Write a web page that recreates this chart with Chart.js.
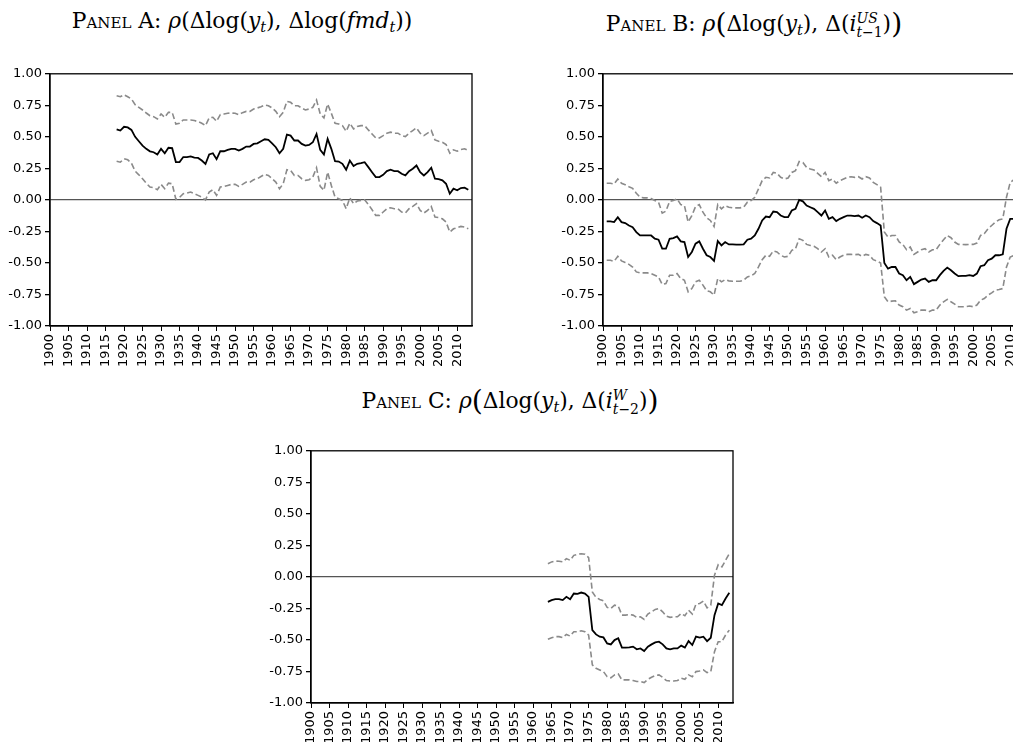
<!DOCTYPE html>
<html>
<head>
<meta charset="utf-8">
<script src="https://cdn.jsdelivr.net/npm/chart.js@4.4.0/dist/chart.umd.min.js"></script>
<style>
  html, body { margin: 0; padding: 0; background: #fff; }
  body { position: relative; width: 1013px; height: 742px; overflow: hidden; }
  canvas { position: absolute; }
  .title {
    position: absolute;
    transform: translateX(-50%);
    white-space: nowrap;
    font-family: "DejaVu Serif", "Liberation Serif", serif;
    font-size: 21.8px;
    line-height: 1;
    color: #000;
  }
  .sc { font-variant: small-caps; }
  .title sub { font-size: 0.66em; vertical-align: -0.3em; line-height: 0; }
  .big { font-size: 1.3em; vertical-align: -0.08em; }
  .ss { display: inline-block; font-size: 0.64em; line-height: 0.95; vertical-align: -0.42em; }
  .ss span { display: block; }
</style>
</head>
<body>
<div class="title" style="left:242px; top:10px;"><span class="sc">Panel A:</span> <i>ρ</i>(Δlog(<i>y</i><sub><i>t</i></sub>), Δlog(<i>fmd</i><sub><i>t</i></sub>))</div>
<div class="title" style="left:754px; top:10px;"><span class="sc">Panel B:</span> <i>ρ</i><span class="big">(</span>Δlog(<i>y</i><sub><i>t</i></sub>), Δ(<i>i</i><span class="ss"><span><i>US</i></span><span><i>t</i>−1</span></span>)<span class="big">)</span></div>
<div class="title" style="left:510px; top:387px;"><span class="sc">Panel C:</span> <i>ρ</i><span class="big">(</span>Δlog(<i>y</i><sub><i>t</i></sub>), Δ(<i>i</i><span class="ss"><span><i>W</i></span><span><i>t</i>−2</span></span>)<span class="big">)</span></div>

<canvas id="panelA" width="480" height="310" style="left:0px; top:63px;"></canvas>
<canvas id="panelB" width="480" height="310" style="left:553px; top:63px;"></canvas>
<canvas id="panelC" width="480" height="310" style="left:261px; top:440px;"></canvas>

<script>
// year ranges of each panel
function yearRange(from, to) {
  const out = [];
  for (let y = from; y <= to; y++) out.push(y);
  return out;
}
const yearsA = yearRange(1918, 2013);
const yearsB = yearRange(1901, 2011);
const yearsC = yearRange(1964, 2013);

// Panel A: rho(dlog y, dlog fmd)
const corrA = [0.56, 0.55,
  0.58, 0.575, 0.555, 0.50, 0.465, 0.43, 0.405, 0.385, 0.378, 0.36,
  0.405, 0.37, 0.413, 0.41, 0.30, 0.30, 0.34, 0.34, 0.345, 0.335,
  0.333, 0.312, 0.285, 0.36, 0.37, 0.323, 0.386, 0.386, 0.397, 0.405,
  0.405, 0.392, 0.405, 0.423, 0.423, 0.444, 0.449, 0.465, 0.481, 0.476,
  0.449, 0.418, 0.37, 0.405, 0.518, 0.51, 0.471, 0.471, 0.444, 0.431,
  0.436, 0.457, 0.523, 0.397, 0.36, 0.484, 0.405, 0.307, 0.304, 0.286,
  0.239, 0.312, 0.268, 0.286, 0.291, 0.299, 0.26, 0.22, 0.181, 0.181,
  0.199, 0.228, 0.239, 0.228, 0.228, 0.207, 0.194, 0.228, 0.247, 0.273,
  0.22, 0.194, 0.22, 0.255, 0.168, 0.165, 0.155, 0.128, 0.049, 0.089,
  0.076, 0.094, 0.097, 0.081];
const upperA = [0.826, 0.818,
  0.834, 0.818, 0.80, 0.755, 0.734, 0.713, 0.689, 0.668, 0.66, 0.642,
  0.681, 0.655, 0.694, 0.694, 0.602, 0.608, 0.634, 0.634, 0.634, 0.629,
  0.621, 0.608, 0.589, 0.65, 0.655, 0.623, 0.676, 0.681, 0.687, 0.689,
  0.687, 0.676, 0.692, 0.702, 0.702, 0.721, 0.729, 0.739, 0.753, 0.747,
  0.729, 0.702, 0.66, 0.694, 0.781, 0.774, 0.747, 0.747, 0.729, 0.713,
  0.721, 0.734, 0.792, 0.681, 0.65, 0.76, 0.687, 0.608, 0.602, 0.589,
  0.544, 0.608, 0.563, 0.582, 0.589, 0.589, 0.555, 0.523, 0.492, 0.492,
  0.51, 0.529, 0.537, 0.529, 0.529, 0.51, 0.502, 0.529, 0.55, 0.571,
  0.529, 0.51, 0.529, 0.55, 0.476, 0.465, 0.457, 0.439, 0.37, 0.397,
  0.386, 0.399, 0.405, 0.392];
const lowerA = [0.307, 0.299,
  0.326, 0.318, 0.291, 0.228, 0.199, 0.168, 0.133, 0.102, 0.097, 0.081,
  0.123, 0.089, 0.133, 0.128, 0.005, 0.02, 0.049, 0.054, 0.062, 0.049,
  0.036, 0.022, 0.0, 0.062, 0.081, 0.036, 0.102, 0.107, 0.115, 0.123,
  0.123, 0.107, 0.123, 0.141, 0.141, 0.16, 0.168, 0.186, 0.202, 0.194,
  0.168, 0.141, 0.089, 0.128, 0.239, 0.234, 0.194, 0.194, 0.168, 0.155,
  0.16, 0.181, 0.255, 0.107, 0.076, 0.22, 0.115, 0.022, 0.009, -0.004,
  -0.07, 0.017, -0.03, -0.009, -0.004, 0.001, -0.036, -0.078, -0.123, -0.123,
  -0.096, -0.07, -0.062, -0.07, -0.07, -0.096, -0.104, -0.07, -0.052, -0.03,
  -0.083, -0.104, -0.083, -0.052, -0.136, -0.14, -0.15, -0.176, -0.255, -0.229,
  -0.22, -0.21, -0.215, -0.229];

// Panel B: rho(dlog y, d i_US(t-1))
const corrB = [-0.171, -0.171, -0.176, -0.137, -0.176, -0.184, -0.203, -0.216, -0.255,
  -0.282, -0.282, -0.282, -0.282, -0.308, -0.316, -0.387, -0.387, -0.308, -0.303,
  -0.289, -0.329, -0.334, -0.453, -0.413, -0.347, -0.329, -0.387, -0.439, -0.453,
  -0.484, -0.326, -0.361, -0.334, -0.353, -0.353, -0.355, -0.355, -0.353, -0.316,
  -0.308, -0.282, -0.229, -0.163, -0.132, -0.137, -0.092, -0.097, -0.124, -0.137,
  -0.137, -0.084, -0.071, 0.0, -0.011, -0.045, -0.058, -0.071, -0.097, -0.124,
  -0.084, -0.15, -0.137, -0.168, -0.15, -0.137, -0.124, -0.124, -0.129, -0.124,
  -0.142, -0.124, -0.137, -0.168, -0.184, -0.203, -0.50, -0.545, -0.532, -0.532,
  -0.584, -0.597, -0.637, -0.611, -0.668, -0.65, -0.632, -0.624, -0.65, -0.637,
  -0.637, -0.597, -0.563, -0.537, -0.558, -0.584, -0.605, -0.603, -0.603, -0.597,
  -0.603, -0.584, -0.526, -0.518, -0.479, -0.466, -0.439, -0.439, -0.432, -0.229,
  -0.15, -0.15];
const upperB = [0.132, 0.132, 0.126, 0.166, 0.132, 0.121, 0.105, 0.092, 0.053,
  0.021, 0.016, 0.016, 0.011, -0.005, -0.018, -0.105, -0.089, -0.011, -0.005,
  0.008, -0.037, -0.045, -0.176, -0.124, -0.053, -0.037, -0.097, -0.142, -0.163,
  -0.211, -0.037, -0.071, -0.045, -0.058, -0.063, -0.063, -0.063, -0.058, -0.018,
  -0.005, 0.021, 0.087, 0.153, 0.179, 0.174, 0.218, 0.211, 0.179, 0.166,
  0.174, 0.218, 0.232, 0.305, 0.297, 0.258, 0.245, 0.237, 0.211, 0.184,
  0.218, 0.153, 0.166, 0.132, 0.153, 0.166, 0.179, 0.184, 0.179, 0.184,
  0.166, 0.184, 0.174, 0.139, 0.121, 0.10, -0.255, -0.295, -0.282, -0.282,
  -0.334, -0.353, -0.395, -0.374, -0.432, -0.413, -0.395, -0.387, -0.413, -0.395,
  -0.395, -0.353, -0.316, -0.282, -0.30, -0.334, -0.353, -0.353, -0.355, -0.353,
  -0.353, -0.342, -0.282, -0.268, -0.229, -0.203, -0.176, -0.158, -0.15, 0.021,
  0.139, 0.16];
const lowerB = [-0.479, -0.479, -0.487, -0.447, -0.484, -0.497, -0.511, -0.532, -0.571,
  -0.579, -0.579, -0.579, -0.584, -0.597, -0.611, -0.671, -0.663, -0.597, -0.597,
  -0.584, -0.624, -0.637, -0.729, -0.703, -0.65, -0.637, -0.676, -0.721, -0.729,
  -0.755, -0.624, -0.65, -0.632, -0.642, -0.645, -0.645, -0.645, -0.637, -0.611,
  -0.603, -0.584, -0.532, -0.474, -0.439, -0.447, -0.405, -0.413, -0.439, -0.453,
  -0.447, -0.40, -0.387, -0.308, -0.321, -0.353, -0.361, -0.368, -0.387, -0.413,
  -0.387, -0.453, -0.439, -0.474, -0.453, -0.439, -0.432, -0.432, -0.434, -0.432,
  -0.447, -0.432, -0.439, -0.474, -0.484, -0.50, -0.768, -0.808, -0.803, -0.80,
  -0.834, -0.847, -0.874, -0.861, -0.895, -0.887, -0.874, -0.874, -0.887, -0.874,
  -0.874, -0.834, -0.808, -0.789, -0.808, -0.826, -0.847, -0.847, -0.847, -0.842,
  -0.847, -0.834, -0.795, -0.782, -0.755, -0.737, -0.716, -0.711, -0.703, -0.532,
  -0.453, -0.44];

// Panel C: rho(dlog y, d i_W(t-2))
const corrC = [-0.198, -0.184, -0.177, -0.177, -0.184, -0.158,
  -0.177, -0.132, -0.134, -0.124, -0.132, -0.158, -0.422, -0.456, -0.474, -0.48,
  -0.527, -0.535, -0.501, -0.487, -0.561, -0.561, -0.559, -0.553, -0.574, -0.567,
  -0.588, -0.553, -0.535, -0.519, -0.514, -0.535, -0.567, -0.574, -0.567, -0.567,
  -0.545, -0.561, -0.509, -0.54, -0.474, -0.482, -0.474, -0.509, -0.482, -0.303,
  -0.211, -0.224, -0.171, -0.126];
const upperC = [0.105, 0.119, 0.126, 0.124, 0.119, 0.145,
  0.132, 0.171, 0.179, 0.184, 0.179, 0.153, -0.119, -0.163, -0.179, -0.19,
  -0.242, -0.25, -0.224, -0.232, -0.303, -0.303, -0.298, -0.303, -0.321, -0.316,
  -0.337, -0.295, -0.277, -0.258, -0.25, -0.277, -0.311, -0.321, -0.316, -0.316,
  -0.29, -0.308, -0.264, -0.295, -0.216, -0.211, -0.192, -0.245, -0.224, 0.013,
  0.097, 0.079, 0.132, 0.184];
const lowerC = [-0.495, -0.482, -0.474, -0.474, -0.482, -0.456,
  -0.469, -0.435, -0.435, -0.427, -0.435, -0.461, -0.698, -0.725, -0.738, -0.751,
  -0.791, -0.80, -0.777, -0.769, -0.817, -0.817, -0.817, -0.822, -0.83, -0.83,
  -0.838, -0.812, -0.796, -0.783, -0.777, -0.796, -0.822, -0.825, -0.825, -0.822,
  -0.804, -0.812, -0.777, -0.791, -0.751, -0.746, -0.738, -0.759, -0.751, -0.593,
  -0.514, -0.514, -0.461, -0.422];

// axis settings shared by all panels
const xMin = 1900, xMax = 2014, xStep = 5;
const yMin = -1, yMax = 1, yStep = 0.25;

const tickFont = { family: '"DejaVu Sans", "Liberation Sans", Arial, sans-serif', size: 13 };

// box round the plot area (top and right sides too)
const framePlugin = {
  id: 'frame',
  afterDatasetsDraw(chart) {
    const { ctx, chartArea: a } = chart;
    ctx.save();
    ctx.strokeStyle = '#000';
    ctx.lineWidth = 1.3;
    ctx.strokeRect(a.left, a.top, a.right - a.left, a.bottom - a.top);
    ctx.restore();
  }
};

function pairs(years, values) {
  return years.map((yr, i) => ({ x: yr, y: values[i] }));
}

function makePanel(id, years, corr, upper, lower) {
  const band = {
    borderColor: '#8a8a8a',
    borderWidth: 1.6,
    borderDash: [6, 3],
    pointRadius: 0,
    fill: false
  };
  new Chart(document.getElementById(id).getContext('2d'), {
    type: 'line',
    data: {
      datasets: [
        Object.assign({ label: 'Upper', data: pairs(years, upper) }, band),
        Object.assign({ label: 'Lower', data: pairs(years, lower) }, band),
        {
          label: 'Correlation',
          data: pairs(years, corr),
          borderColor: '#000',
          borderWidth: 1.8,
          pointRadius: 0,
          fill: false
        }
      ]
    },
    options: {
      responsive: false,
      animation: false,
      layout: { padding: { top: 10, right: 8, left: 0, bottom: 0 } },
      plugins: {
        legend: { display: false },
        tooltip: { enabled: false },
        title: { display: false }
      },
      scales: {
        x: {
          type: 'linear',
          min: xMin,
          max: xMax,
          afterFit: (s) => { s.height = 47; },
          ticks: {
            stepSize: xStep,
            includeBounds: false,
            autoSkip: false,
            minRotation: 90,
            maxRotation: 90,
            padding: 3,
            color: '#000',
            font: tickFont,
            callback: (v) => String(v)
          },
          grid: {
            drawOnChartArea: false,
            tickLength: 5,
            tickColor: '#000',
            lineWidth: 1
          },
          border: { color: '#000', width: 1.3 }
        },
        y: {
          min: yMin,
          max: yMax,
          afterFit: (s) => { s.width = 50; },
          ticks: {
            stepSize: yStep,
            padding: 3,
            color: '#000',
            font: tickFont,
            callback: (v) => Number(v).toFixed(2)
          },
          grid: {
            color: (c) => (c.tick && c.tick.value === 0 ? '#555' : 'rgba(0,0,0,0)'),
            lineWidth: 1.3,
            tickLength: 5,
            tickColor: '#000'
          },
          border: { color: '#000', width: 1.3 }
        }
      }
    },
    plugins: [framePlugin]
  });
}

makePanel('panelA', yearsA, corrA, upperA, lowerA);
makePanel('panelB', yearsB, corrB, upperB, lowerB);
makePanel('panelC', yearsC, corrC, upperC, lowerC);
</script>
</body>
</html>
